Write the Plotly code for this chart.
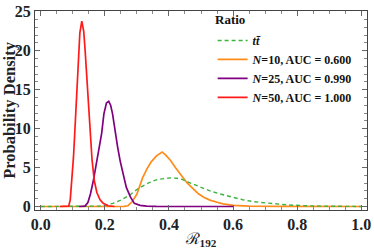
import plotly.graph_objects as go

# --- data ---
tt_x = [0.0, 0.15, 0.18, 0.2, 0.225, 0.251, 0.277, 0.302, 0.32, 0.338, 0.364, 0.385, 0.405, 0.425, 0.44,
        0.462, 0.5, 0.528, 0.56, 0.594, 0.63, 0.667, 0.72, 0.77, 0.85, 0.92, 1.0]
tt_y = [0, 0, 0.05, 0.15, 0.4, 0.85, 1.45, 2.25, 2.7, 3.06, 3.47, 3.62, 3.68, 3.62, 3.5,
        3.1, 2.5, 2.0, 1.6, 1.2, 0.87, 0.6, 0.35, 0.2, 0.06, 0.02, 0]

n10_x = [0.0, 0.24, 0.26, 0.272, 0.285, 0.3, 0.318, 0.331, 0.344, 0.361, 0.372, 0.379, 0.39, 0.405, 0.42,
         0.436, 0.456, 0.475, 0.492, 0.51, 0.528, 0.55, 0.569, 0.6, 0.65, 0.75, 1.0]
n10_y = [0, 0, 0.01, 0.1, 0.6, 1.6, 3.7, 4.8, 5.7, 6.5, 6.85, 7.0, 6.6, 5.9, 5.0,
         4.1, 3.06, 2.3, 1.63, 1.15, 0.82, 0.55, 0.33, 0.15, 0.05, 0.01, 0]

n25_x = [0.12, 0.138, 0.147, 0.155, 0.164, 0.172, 0.18, 0.19, 0.197, 0.205, 0.212, 0.218, 0.224, 0.231,
         0.24, 0.248, 0.257, 0.267, 0.28, 0.292, 0.31, 0.33, 0.36, 0.6]
n25_y = [0, 0.05, 0.5, 1.6, 3.3, 5.3, 7.4, 9.4, 11.9, 13.3, 13.5, 13.0, 11.9, 9.8,
         7.6, 5.8, 4.0, 2.45, 1.2, 0.4, 0.15, 0.05, 0.01, 0]

n50_x = [0.06, 0.08, 0.087, 0.092, 0.097, 0.102, 0.106, 0.111, 0.116, 0.122, 0.128, 0.134, 0.138, 0.142,
         0.148, 0.154, 0.160, 0.167, 0.175, 0.185, 0.195, 0.21, 0.23]
n50_y = [0, 0, 0.05, 0.85, 3.3, 6.3, 9.4, 13.5, 17.6, 22.3, 23.8, 22.5, 20.3, 17.6,
         13.2, 9.4, 6.0, 3.3, 1.8, 0.85, 0.4, 0.1, 0.0]

x_ticks = [0.0, 0.2, 0.4, 0.6, 0.8, 1.0]
x_tick_text = ["0.0", "0.2", "0.4", "0.6", "0.8", "1.0"]
y_ticks = [0, 5, 10, 15, 20, 25]
y_tick_text = ["0", "5", "10", "15", "20", "25"]

names = ["<i>tt̄</i>", "<i>N</i>=10, AUC = 0.600", "<i>N</i>=25, AUC = 0.990", "<i>N</i>=50, AUC = 1.000"]
legend_title = "Ratio"

FONT = "Liberation Serif"

fig = go.Figure()
fig.add_trace(go.Scatter(x=n10_x, y=n10_y, mode="lines", name=names[1], legendrank=2,
                         line=dict(color="#ff8c1a", width=1.7)))
fig.add_trace(go.Scatter(x=tt_x, y=tt_y, mode="lines", name=names[0], legendrank=1,
                         line=dict(color="#3cb43c", width=1.4, dash="4px,3px")))
fig.add_trace(go.Scatter(x=n25_x, y=n25_y, mode="lines", name=names[2], legendrank=3,
                         line=dict(color="#800080", width=1.7)))
fig.add_trace(go.Scatter(x=n50_x, y=n50_y, mode="lines", name=names[3], legendrank=4,
                         line=dict(color="#ff1a1a", width=1.7)))

axis_common = dict(
    showline=True, linecolor="#444", linewidth=1, mirror="allticks",
    ticks="inside", ticklen=5, tickcolor="#666", tickwidth=1,
    showgrid=False, zeroline=False, ticklabeloverflow="allow",
    tickfont=dict(family=FONT, size=16, color="#222"),
)

fig.update_layout(
    width=374, height=249,
    margin=dict(l=35, r=3, t=5, b=35),
    paper_bgcolor="white", plot_bgcolor="white",
    font=dict(family=FONT, color="#222"),
    showlegend=True,
    legend=dict(
        x=0.535, y=0.925, xanchor="left", yanchor="top",
        bgcolor="rgba(0,0,0,0)", borderwidth=0,
        font=dict(family=FONT, size=12, color="#111", weight="bold"),
        tracegroupgap=0, itemwidth=30,
    ),
    annotations=[dict(
        text=f"<b>{legend_title}</b>", xref="paper", yref="paper",
        x=(215 - 35) / 336, y=(214 - 14) / 209, xanchor="left", yanchor="middle",
        showarrow=False, font=dict(family=FONT, size=13, color="#111"),
    )],
    xaxis=dict(
        range=[-0.018, 1.018], tickvals=x_ticks, ticktext=[f"<b>{t}</b>" for t in x_tick_text],
        minor=dict(dtick=0.05, tick0=0, ticks="inside", ticklen=3, tickcolor="#888"),
        title=dict(text="ℛ<sub><b>192</b></sub>", font=dict(family=FONT, size=16, color="#222"), standoff=2),
        **axis_common,
    ),
    yaxis=dict(
        range=[-0.45, 25.1], tickvals=y_ticks, ticktext=[f"<b>{t}</b>" for t in y_tick_text],
        minor=dict(dtick=1, tick0=0, ticks="inside", ticklen=3, tickcolor="#888"),
        title=dict(text="<b>Probability Density</b>", font=dict(family=FONT, size=16.5, color="#222"), standoff=0),
        **axis_common,
    ),
)

fig.write_html("out.html", config={"displayModeBar": False, "staticPlot": True},
               post_script="document.body.style.margin='0';document.body.style.overflow='hidden';")
